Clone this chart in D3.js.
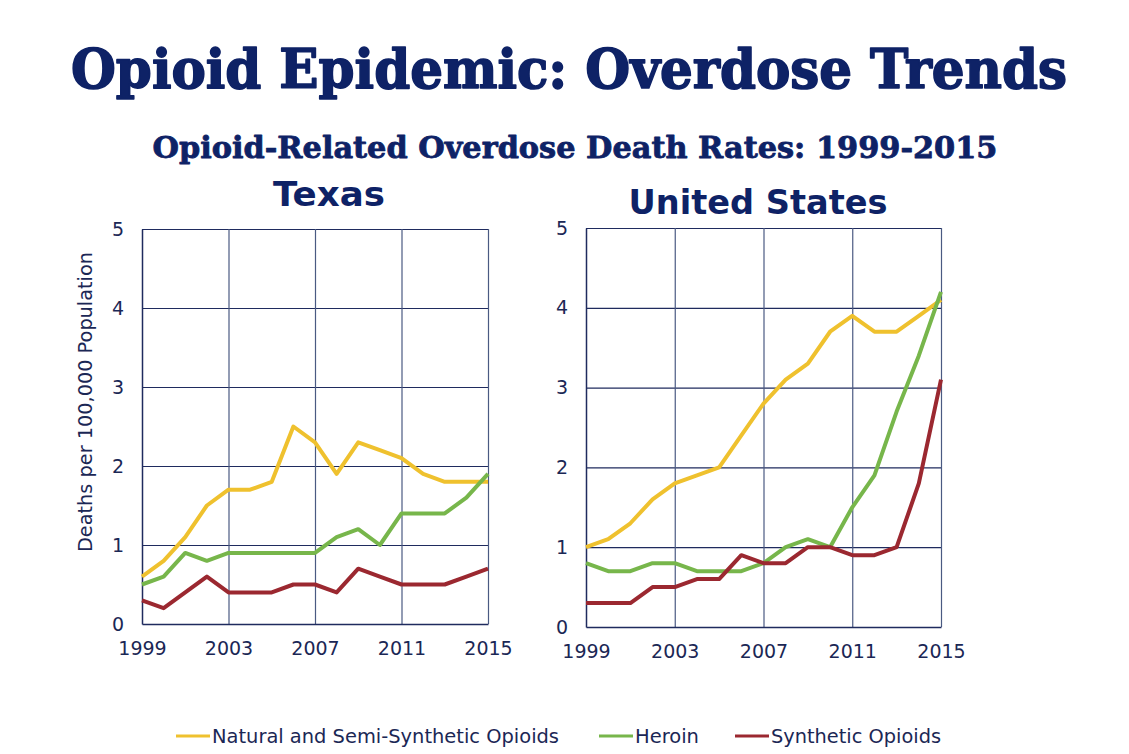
<!DOCTYPE html>
<html>
<head>
<meta charset="utf-8">
<script src="https://cdn.jsdelivr.net/npm/d3@7"></script>
<style>
  html, body { margin: 0; padding: 0; background: #ffffff; }
  svg { display: block; }
</style>
</head>
<body>
<svg id="chart" width="1129" height="754"></svg>
<script>
const years = [1999,2000,2001,2002,2003,2004,2005,2006,2007,2008,2009,2010,2011,2012,2013,2014,2015];
const xTickYears = [1999, 2003, 2007, 2011, 2015];
const yTicks = [0, 1, 2, 3, 4, 5];
const seriesNames = ["Natural and Semi-Synthetic Opioids", "Heroin", "Synthetic Opioids"];
const seriesColors = ["#EFC12E", "#77B64B", "#9B2830"];

const texasNatural   = [0.6,0.8,1.1,1.5,1.7,1.7,1.8,2.5,2.3,1.9,2.3,2.2,2.1,1.9,1.8,1.8,1.8];
const texasHeroin    = [0.5,0.6,0.9,0.8,0.9,0.9,0.9,0.9,0.9,1.1,1.2,1.0,1.4,1.4,1.4,1.6,1.9];
const texasSynthetic = [0.3,0.2,0.4,0.6,0.4,0.4,0.4,0.5,0.5,0.4,0.7,0.6,0.5,0.5,0.5,0.6,0.7];

const usNatural   = [1.0,1.1,1.3,1.6,1.8,1.9,2.0,2.4,2.8,3.1,3.3,3.7,3.9,3.7,3.7,3.9,4.1];
const usHeroin    = [0.8,0.7,0.7,0.8,0.8,0.7,0.7,0.7,0.8,1.0,1.1,1.0,1.5,1.9,2.7,3.4,4.2];
const usSynthetic = [0.3,0.3,0.3,0.5,0.5,0.6,0.6,0.9,0.8,0.8,1.0,1.0,0.9,0.9,1.0,1.8,3.1];

const navy = "#0E2266";
const textNavy = "#1B2755";
const gridColor = "#1F2B5E";

const svg = d3.select("#chart");

// Main title
svg.append("text")
  .attr("x", 569).attr("y", 88)
  .attr("text-anchor", "middle")
  .attr("font-family", "'DejaVu Serif', serif")
  .attr("font-weight", "bold")
  .attr("font-size", 54)
  .attr("fill", navy)
  .attr("stroke", navy).attr("stroke-width", 1.6).attr("stroke-linejoin", "round")
  .attr("textLength", 996).attr("lengthAdjust", "spacingAndGlyphs")
  .text("Opioid Epidemic: Overdose Trends");

svg.append("text")
  .attr("x", 575).attr("y", 158)
  .attr("text-anchor", "middle")
  .attr("font-family", "'DejaVu Serif', serif")
  .attr("font-weight", "bold")
  .attr("font-size", 30)
  .attr("fill", navy)
  .attr("stroke", navy).attr("stroke-width", 0.8).attr("stroke-linejoin", "round")
  .attr("textLength", 845).attr("lengthAdjust", "spacingAndGlyphs")
  .text("Opioid-Related Overdose Death Rates: 1999-2015");

const panels = [
  { title: "Texas", titleX: 329, titleY: 206, titleW: 112,
    left: 142, right: 488, top: 229, bottom: 624, label: true,
    data: [texasNatural, texasHeroin, texasSynthetic] },
  { title: "United States", titleX: 758, titleY: 214, titleW: 259,
    left: 586, right: 941, top: 228, bottom: 627, label: false,
    data: [usNatural, usHeroin, usSynthetic] }
];

panels.forEach(p => {
  const x = d3.scaleLinear().domain([1999, 2015]).range([p.left, p.right]);
  const y = d3.scaleLinear().domain([0, 5]).range([p.bottom, p.top]);
  const g = svg.append("g");

  g.append("text")
    .attr("x", p.titleX).attr("y", p.titleY)
    .attr("text-anchor", "middle")
    .attr("font-family", "'DejaVu Sans', Verdana, sans-serif")
    .attr("font-weight", "bold")
    .attr("font-size", 33)
    .attr("fill", navy)
    .attr("textLength", p.titleW).attr("lengthAdjust", "spacingAndGlyphs")
    .text(p.title);

  // horizontal grid lines
  g.append("g")
    .attr("transform", `translate(${p.left},0)`)
    .call(d3.axisLeft(y).tickValues(yTicks.filter(v => v > 0)).tickSize(-(p.right - p.left)).tickFormat(""))
    .call(a => a.select(".domain").remove())
    .call(a => a.selectAll("line").attr("stroke", gridColor).attr("stroke-width", 1.2));

  // vertical grid lines
  g.append("g")
    .attr("transform", `translate(0,${p.bottom})`)
    .call(d3.axisBottom(x).tickValues(xTickYears.filter(v => v > 1999)).tickSize(-(p.bottom - p.top)).tickFormat(""))
    .call(a => a.select(".domain").remove())
    .call(a => a.selectAll("line").attr("stroke", "#4A5A82").attr("stroke-width", 1.2));

  // Left axis with labels
  g.append("g")
    .attr("transform", `translate(${p.left},0)`)
    .call(d3.axisLeft(y).tickValues(yTicks).tickSize(0).tickPadding(18).tickFormat(d3.format("d")))
    .call(a => a.select(".domain").attr("stroke", gridColor).attr("stroke-width", 1.5))
    .call(a => a.selectAll("text")
      .attr("font-family", "'DejaVu Sans', Verdana, sans-serif")
      .attr("font-size", 19).attr("fill", textNavy));

  // Bottom axis with labels
  g.append("g")
    .attr("transform", `translate(0,${p.bottom})`)
    .call(d3.axisBottom(x).tickValues(xTickYears).tickSize(0).tickPadding(18).tickFormat(d3.format("d")))
    .call(a => a.select(".domain").attr("stroke", gridColor).attr("stroke-width", 1.5))
    .call(a => a.selectAll("text")
      .attr("font-family", "'DejaVu Sans', Verdana, sans-serif")
      .attr("font-size", 19).attr("fill", textNavy));

  if (p.label) {
    g.append("text")
      .attr("transform", `translate(92,402) rotate(-90)`)
      .attr("text-anchor", "middle")
      .attr("font-family", "'DejaVu Sans', Verdana, sans-serif")
      .attr("font-size", 19)
      .attr("fill", textNavy)
      .attr("textLength", 300).attr("lengthAdjust", "spacingAndGlyphs")
      .text("Deaths per 100,000 Population");
  }

  const line = d3.line().x((d, i) => x(years[i])).y(d => y(d));
  p.data.forEach((s, i) => {
    g.append("path")
      .datum(s)
      .attr("d", line)
      .attr("fill", "none")
      .attr("stroke", seriesColors[i])
      .attr("stroke-width", 4)
      .attr("stroke-linejoin", "round");
  });
});

// Legend
const legendX = [176, 599, 735];
const legendW = [347, 64, 170];
const legend = svg.append("g");
seriesNames.forEach((name, i) => {
  legend.append("line")
    .attr("x1", legendX[i]).attr("x2", legendX[i] + 34)
    .attr("y1", 736).attr("y2", 736)
    .attr("stroke", seriesColors[i]).attr("stroke-width", 3);
  legend.append("text")
    .attr("x", legendX[i] + 36).attr("y", 743)
    .attr("font-family", "'DejaVu Sans', Verdana, sans-serif")
    .attr("font-size", 19)
    .attr("fill", textNavy)
    .attr("textLength", legendW[i]).attr("lengthAdjust", "spacingAndGlyphs")
    .text(name);
});
</script>
</body>
</html>
